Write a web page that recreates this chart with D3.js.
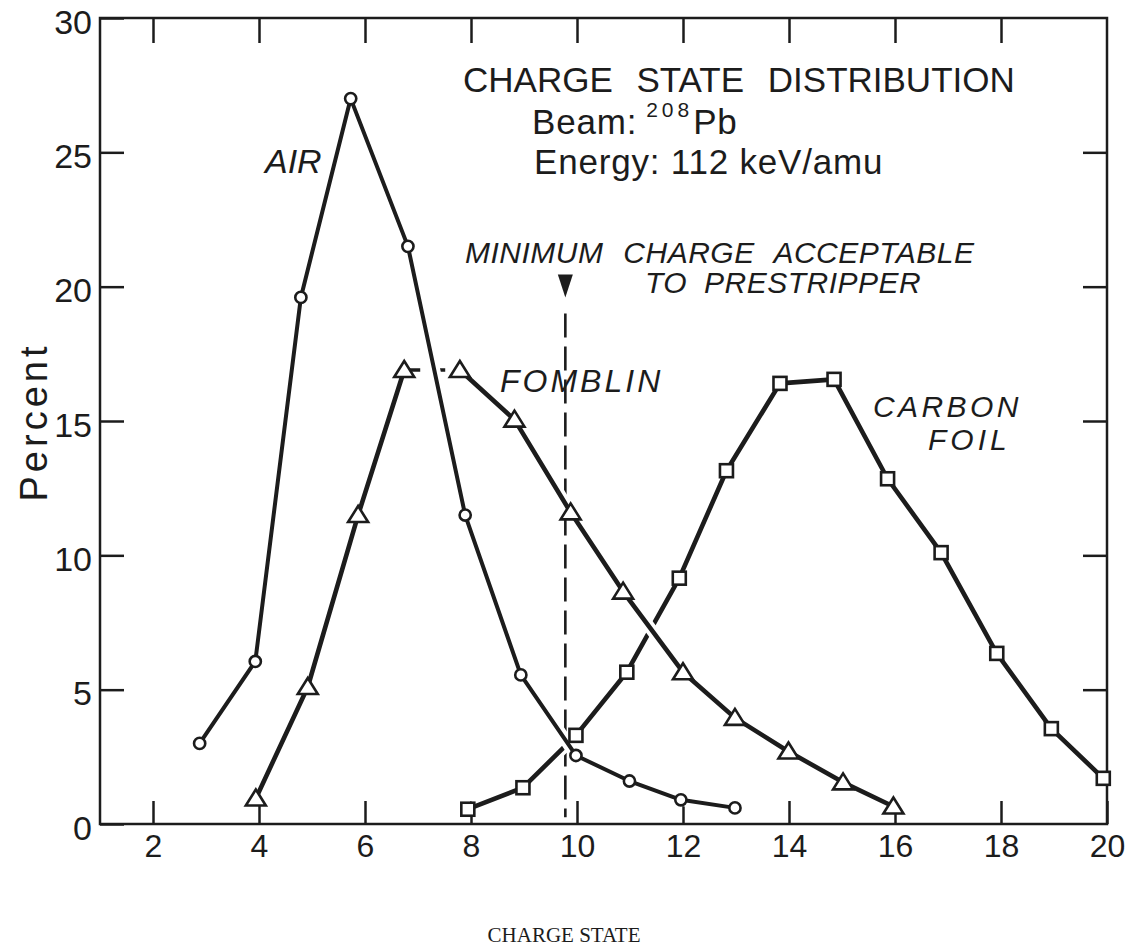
<!DOCTYPE html>
<html>
<head>
<meta charset="utf-8">
<script src="https://cdn.jsdelivr.net/npm/d3@7"></script>
<style>
body { margin: 0; background: #fff; }
text { font-family: "Liberation Sans", Arial, sans-serif; fill: #1c1c1c; }
</style>
</head>
<body>
<script>
var width = 1140,
    height = 951;
var ink = "#1c1c1c";

// charge state (as plotted) and percent
var airCharge = [2.88, 3.93, 4.79, 5.73, 6.81, 7.89, 8.94, 9.98, 10.99, 11.96, 12.98];
var airPercent = [3.0, 6.05, 19.6, 27.0, 21.5, 11.5, 5.55, 2.55, 1.6, 0.9, 0.6];

var fomblinCharge = [3.94, 4.92, 5.87, 6.74, 7.79, 8.82, 9.88, 10.87, 12.0, 12.98, 13.99, 15.02, 15.97];
var fomblinPercent = [0.95, 5.1, 11.5, 16.9, 16.9, 15.05, 11.6, 8.65, 5.65, 3.95, 2.7, 1.55, 0.65];
var fomblinDashedFrom = 3; // segment 7 -> 8 is drawn dashed

var carbonCharge = [7.94, 8.98, 9.98, 10.94, 11.93, 12.82, 13.83, 14.85, 15.86, 16.87, 17.92, 18.95, 19.93];
var carbonPercent = [0.55, 1.35, 3.3, 5.65, 9.15, 13.15, 16.4, 16.55, 12.85, 10.1, 6.35, 3.55, 1.7];

var xTicks = [2, 4, 6, 8, 10, 12, 14, 16, 18, 20];
var yTicks = [0, 5, 10, 15, 20, 25, 30];
var minCharge = 9.78;

var svg = d3.select("body")
    .append("svg")
    .attr("width", width)
    .attr("height", height);

svg.append("rect")
    .attr("width", width)
    .attr("height", height)
    .attr("fill", "#fff");

var x = d3.scaleLinear()
    .domain([1, 20])
    .range([100, 1107]);

var y = d3.scaleLinear()
    .domain([0, 30])
    .range([824, 18]);

function styleAxis(g, size) {
    g.select(".domain").remove();
    g.attr("font-size", size);
    g.selectAll(".tick line")
        .attr("stroke", ink)
        .attr("stroke-width", 2.5);
}

// frame
svg.append("rect")
    .attr("x", x(1))
    .attr("y", y(30))
    .attr("width", x(20) - x(1))
    .attr("height", y(0) - y(30))
    .attr("fill", "none")
    .attr("stroke", ink)
    .attr("stroke-width", 2.5);

svg.append("g")
    .attr("transform", "translate(0," + y(0) + ")")
    .call(d3.axisBottom(x).tickValues(xTicks).tickSizeInner(-23).tickSizeOuter(0).tickPadding(10))
    .call(styleAxis, 32);

svg.append("g")
    .attr("transform", "translate(0," + y(30) + ")")
    .call(d3.axisTop(x).tickValues(xTicks.slice(0, -1)).tickSizeInner(-25).tickSizeOuter(0).tickFormat(""))
    .call(styleAxis, 10);

svg.append("g")
    .attr("transform", "translate(" + x(1) + ",0)")
    .call(d3.axisLeft(y).tickValues(yTicks).tickSizeInner(-24).tickSizeOuter(0).tickPadding(8))
    .call(styleAxis, 34)
    .selectAll(".tick text")
    .attr("dy", "0.45em");

svg.append("g")
    .attr("transform", "translate(" + x(20) + ",0)")
    .call(d3.axisRight(y).tickValues(yTicks.slice(1, -1)).tickSizeInner(-24).tickSizeOuter(0).tickFormat(""))
    .call(styleAxis, 10);

// minimum charge marker
svg.append("line")
    .attr("x1", x(minCharge))
    .attr("x2", x(minCharge))
    .attr("y1", y(19.0))
    .attr("y2", y(0.25))
    .attr("stroke", ink)
    .attr("stroke-width", 2.6)
    .attr("stroke-dasharray", "24,9");

svg.append("path")
    .attr("d", "M" + (x(minCharge) - 7.5) + "," + y(20.45) +
               "L" + (x(minCharge) + 7.5) + "," + y(20.45) +
               "L" + x(minCharge) + "," + y(19.6) + "Z")
    .attr("fill", ink);

var series = [
    {xs: carbonCharge, ys: carbonPercent, marker: "square", lw: 4.6},
    {xs: fomblinCharge, ys: fomblinPercent, marker: "triangle", lw: 4.6, dashedFrom: fomblinDashedFrom},
    {xs: airCharge, ys: airPercent, marker: "circle", lw: 4}
];

var line = d3.line()
    .x(function(d) { return x(d[0]); })
    .y(function(d) { return y(d[1]); });

// lines, each with a white halo so later curves break earlier ones at crossings
series.forEach(function(s) {
    var pts = s.xs.map(function(v, i) { return [v, s.ys[i]]; });
    var solid = [pts], dashed = [];
    if (s.dashedFrom != null) {
        var k = s.dashedFrom;
        solid = [pts.slice(0, k + 1), pts.slice(k + 1)];
        dashed = [pts.slice(k, k + 2)];
    }
    solid.concat(dashed).forEach(function(p) {
        svg.append("path")
            .attr("d", line(p))
            .attr("fill", "none")
            .attr("stroke", "#fff")
            .attr("stroke-width", 12)
            .attr("stroke-linejoin", "round");
    });
    solid.forEach(function(p) {
        svg.append("path")
            .attr("d", line(p))
            .attr("fill", "none")
            .attr("stroke", ink)
            .attr("stroke-width", s.lw)
            .attr("stroke-linejoin", "round");
    });
    dashed.forEach(function(p) {
        svg.append("path")
            .attr("d", line(p))
            .attr("fill", "none")
            .attr("stroke", ink)
            .attr("stroke-width", 3.4)
            .attr("stroke-dasharray", "16,9");
    });
});

// markers on top
series.forEach(function(s) {
    var pts = s.xs.map(function(v, i) { return [v, s.ys[i]]; });
    var g = svg.append("g")
        .attr("fill", "#fff")
        .attr("stroke", ink)
        .attr("stroke-width", 2.6);
    if (s.marker == "circle") {
        g.selectAll("circle")
            .data(pts)
            .enter().append("circle")
            .attr("cx", function(d) { return x(d[0]); })
            .attr("cy", function(d) { return y(d[1]); })
            .attr("r", 5.6);
    } else if (s.marker == "square") {
        g.selectAll("rect")
            .data(pts)
            .enter().append("rect")
            .attr("x", function(d) { return x(d[0]) - 6.5; })
            .attr("y", function(d) { return y(d[1]) - 6.5; })
            .attr("width", 13)
            .attr("height", 13);
    } else {
        g.selectAll("path")
            .data(pts)
            .enter().append("path")
            .attr("stroke-linejoin", "miter")
            .attr("d", function(d) {
                var cx = x(d[0]), cy = y(d[1]);
                return "M" + cx + "," + (cy - 9) + "L" + (cx + 10) + "," + (cy + 7) +
                       "L" + (cx - 10) + "," + (cy + 7) + "Z";
            });
    }
});

// annotations
svg.append("text")
    .attr("x", 463)
    .attr("y", 92)
    .attr("font-size", 35)
    .attr("word-spacing", 14)
    .text("CHARGE STATE DISTRIBUTION");

var beam = svg.append("text")
    .attr("x", 532)
    .attr("y", 134)
    .attr("font-size", 35)
    .attr("letter-spacing", 0.8);
beam.append("tspan").text("Beam:");
beam.append("tspan")
    .attr("dx", 9)
    .attr("dy", -17)
    .attr("font-size", 21)
    .attr("letter-spacing", 4)
    .text("208");
beam.append("tspan")
    .attr("dx", 0)
    .attr("dy", 17)
    .text("Pb");

svg.append("text")
    .attr("x", 534)
    .attr("y", 174)
    .attr("font-size", 35)
    .attr("letter-spacing", 0.8)
    .text("Energy: 112 keV/amu");

svg.append("text")
    .attr("x", 465)
    .attr("y", 263)
    .attr("font-size", 30)
    .attr("font-style", "italic")
    .attr("letter-spacing", 0.5)
    .attr("word-spacing", 11)
    .text("MINIMUM CHARGE ACCEPTABLE");

svg.append("text")
    .attr("x", 645)
    .attr("y", 293)
    .attr("font-size", 30)
    .attr("font-style", "italic")
    .attr("letter-spacing", 0.5)
    .attr("word-spacing", 8)
    .text("TO PRESTRIPPER");

svg.append("text")
    .attr("x", 265)
    .attr("y", 173)
    .attr("font-size", 34)
    .attr("font-style", "italic")
    .text("AIR");

svg.append("text")
    .attr("x", 500)
    .attr("y", 392)
    .attr("font-size", 32)
    .attr("font-style", "italic")
    .attr("letter-spacing", 3)
    .text("FOMBLIN");

svg.append("text")
    .attr("x", 873)
    .attr("y", 417)
    .attr("font-size", 30)
    .attr("font-style", "italic")
    .attr("letter-spacing", 3.4)
    .text("CARBON");

svg.append("text")
    .attr("x", 928)
    .attr("y", 450)
    .attr("font-size", 30)
    .attr("font-style", "italic")
    .attr("letter-spacing", 4)
    .text("FOIL");

svg.append("text")
    .attr("transform", "translate(47,422) rotate(-90)")
    .attr("text-anchor", "middle")
    .attr("font-size", 38)
    .attr("letter-spacing", 4)
    .text("Percent");

svg.append("text")
    .attr("x", 564)
    .attr("y", 942)
    .attr("text-anchor", "middle")
    .attr("font-size", 21)
    .style("font-family", "'Liberation Serif', 'Times New Roman', serif")
    .text("CHARGE STATE");
</script>
</body>
</html>
